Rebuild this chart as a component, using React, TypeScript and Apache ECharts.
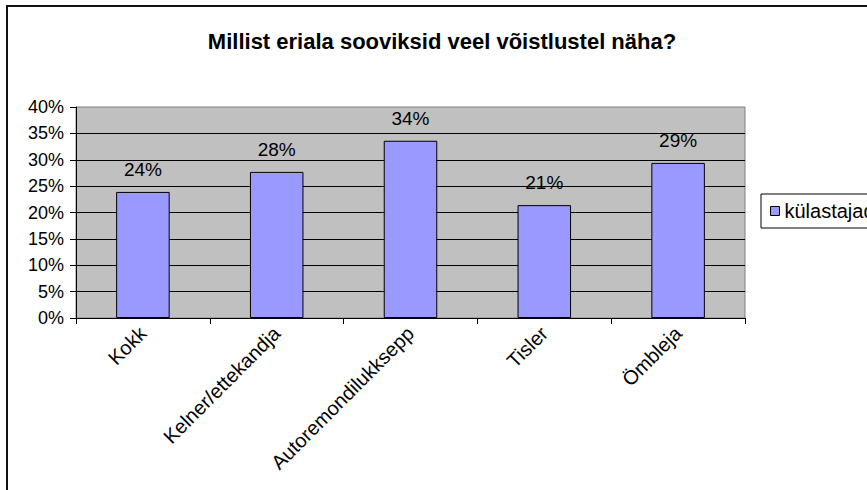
import React, { useEffect, useRef } from "react";
import * as echarts from "echarts";

const categories = ["Kokk", "Kelner/ettekandja", "Autoremondilukksepp", "Tisler", "Ömbleja"];
const seriesName = "külastajad";
const values = [23.9, 27.7, 33.6, 21.4, 29.4];
const yMin = 0;
const yMax = 40;
const yStep = 5;
const title = "Millist eriala sooviksid veel võistlustel näha?";

const FONT = "'Liberation Sans', Arial, sans-serif";

export default function App() {
  const ref = useRef<HTMLDivElement>(null);
  useEffect(() => {
    if (!ref.current) return;
    const chart = echarts.init(ref.current, undefined, { renderer: "svg" });
    chart.setOption({
      animation: false,
      backgroundColor: "#ffffff",
      textStyle: { fontFamily: FONT },
      title: {
        text: title,
        left: 437,
        top: 25,
        textAlign: "center",
        textStyle: { fontFamily: FONT, fontWeight: "bold", fontSize: 22, color: "#000" },
      },
      graphic: [
        {
          type: "rect",
          shape: { x: 7, y: 6, width: 900, height: 600 },
          style: { fill: "none", stroke: "#111", lineWidth: 2 },
          silent: true,
        },
      ],
      legend: {
        left: 761,
        top: 194,
        orient: "vertical",
        itemWidth: 9,
        itemHeight: 9,
        itemGap: 0,
        padding: [7, 10, 7, 9],
        borderColor: "#000",
        borderWidth: 1,
        backgroundColor: "#fff",
        icon: "rect",
        textStyle: { fontFamily: FONT, fontSize: 20, color: "#000" },
        data: [{ name: seriesName, itemStyle: { color: "#9999ff", borderColor: "#000", borderWidth: 1 } }],
      },
      grid: {
        left: 76,
        right: 122,
        top: 107,
        bottom: 172,
        show: true,
        backgroundColor: "#c0c0c0",
        borderColor: "#808080",
        borderWidth: 1,
        containLabel: false,
      },
      xAxis: {
        type: "category",
        data: categories,
        boundaryGap: true,
        axisLine: { show: true, lineStyle: { color: "#000", width: 1 } },
        axisTick: { show: true, alignWithLabel: false, length: 6, lineStyle: { color: "#000" } },
        axisLabel: {
          rotate: 45,
          interval: 0,
          margin: 12,
          fontFamily: FONT,
          fontSize: 20,
          color: "#000",
        },
        splitLine: { show: false },
      },
      yAxis: {
        type: "value",
        min: yMin,
        max: yMax,
        interval: yStep,
        axisLine: { show: true, lineStyle: { color: "#000", width: 1 } },
        axisTick: { show: true, length: 6, lineStyle: { color: "#000" } },
        axisLabel: {
          formatter: "{value}%",
          margin: 12,
          fontFamily: FONT,
          fontSize: 18,
          color: "#000",
        },
        splitLine: { show: true, showMaxLine: false, lineStyle: { color: "#000", width: 1 } },
      },
      series: [
        {
          name: seriesName,
          type: "bar",
          data: values,
          barWidth: "40%",
          itemStyle: { color: "#9999ff", borderColor: "#000", borderWidth: 1 },
          label: {
            show: true,
            position: "top",
            distance: 13,
            fontFamily: FONT,
            fontSize: 19,
            color: "#000",
            formatter: (p: any) => Math.round(p.value) + "%",
          },
        },
      ],
    });
    return () => chart.dispose();
  }, []);
  return (
    <div
      ref={ref}
      style={{ position: "absolute", left: 0, top: 0, width: 867, height: 490 }}
    />
  );
}
